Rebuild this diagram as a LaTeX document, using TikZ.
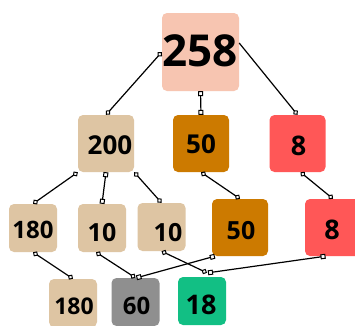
\documentclass[tikz,border=0pt]{standalone}
\usepackage{fontspec}
\setmainfont{Open Sans}
\usetikzlibrary{arrows.meta}

\definecolor{peach}{HTML}{F7C5B1}
\definecolor{tan}{HTML}{DEC5A3}
\definecolor{amber}{HTML}{CC7A00}
\definecolor{coral}{HTML}{FF5757}
\definecolor{stone}{HTML}{8F8F8F}
\definecolor{jade}{HTML}{12BF84}

\tikzset{
  box/.style={rectangle, rounded corners=5pt, inner sep=0pt, draw=none},
  sq48/.style={box, minimum width=48pt, minimum height=48pt},
  sq56/.style={box, minimum width=56pt, minimum height=57pt},
  num/.style={inner sep=0pt, font=\bfseries\fontsize{#1}{#1}\selectfont},
  num/.default=25,
  link/.style={line width=1.2pt, black},
  dd/.style={link, {Diamond[fill=white,length=6pt,width=6pt,line width=1pt]}-{Diamond[fill=white,length=6pt,width=6pt,line width=1pt]}},
  ss/.style={link, {Square[fill=white,length=5pt,width=5pt,line width=1pt]}-{Square[fill=white,length=5pt,width=5pt,line width=1pt]}},
  de/.style={link, -{Diamond[fill=white,length=6pt,width=6pt,line width=1pt]}},
}

\begin{document}
\begin{tikzpicture}[x=1pt,y=-1pt]
\clip (0,0) rectangle (355,325);
\fill[white] (0,0) rectangle (355,325);

% boxes
\node[box, fill=peach, minimum width=77pt, minimum height=78pt] (n258) at (200.5,52) {};
\node[sq56, fill=tan]   (n200) at (106,143.5) {};
\node[sq56, fill=amber] (n50a) at (201,143.5) {};
\node[sq56, fill=coral] (n8a)  at (297.5,143.5) {};
\node[sq48, fill=tan]   (n180a) at (33,228) {};
\node[sq48, fill=tan]   (n10a)  at (102,228) {};
\node[sq48, fill=tan]   (n10b)  at (161.5,227) {};
\node[sq56, fill=amber] (n50b)  at (240,227.5) {};
\node[sq56, fill=coral] (n8b)   at (333,227.5) {};
\node[sq48, fill=tan]   (n180b) at (73,303) {};
\node[sq48, fill=stone] (n60)   at (135.5,302) {};
\node[sq48, fill=jade]  (n18)   at (202,301) {};

% connectors
\draw[dd] (n258.west) -- (n200.north);
\draw[ss] (n258.south) -- (n50a.north);
\draw[de] ([yshift=9pt]n258.east) -- (n8a.north);
\draw[dd] (n200.south west) -- (n180a.north);
\draw[ss] (n200.south) -- (n10a.north);
\draw[dd] (n200.south east) -- (n10b.north);
\draw[dd] (n50a.south) -- (n50b.north);
\draw[dd] ([xshift=3pt]n8a.south) -- (n8b.north);
\draw[dd] (n180a.south) -- (n180b.north);
\draw[dd] ([xshift=-6pt]n10a.south) -- (n60.north);
\draw[dd] (n10b.south) -- ([shift={(5pt,4pt)}]n18.north);
\draw[ss] ([xshift=3pt]n50b.south west) -- ([xshift=1pt]n60.north);
\draw[ss] ([xshift=-7.5pt]n8b.south) -- ([shift={(6pt,4pt)}]n18.north);

% labels
\node[num=44] (t258) at (200,51) {258};
\node[num=26] (t200) at (110,145.5) {200};
\node[num=26] (t50a) at (201,144) {50};
\node[num=27] (t8a)  at (298.5,145.5) {8};
\node[num=24] (t180a) at (33,229.5) {180};
\node[num=25] (t10a)  at (102,233) {10};
\node[num=25] (t10b)  at (168,232.5) {10};
\node[num=25] (t50b)  at (241,231) {50};
\node[num=27] (t8b)   at (332,230) {8};
\node[num=23] (t180b) at (74,306.5) {180};
\node[num=24] (t60)   at (136.5,306) {60};
\node[num=27] (t18)   at (201,305) {18};
\end{tikzpicture}
\end{document}
